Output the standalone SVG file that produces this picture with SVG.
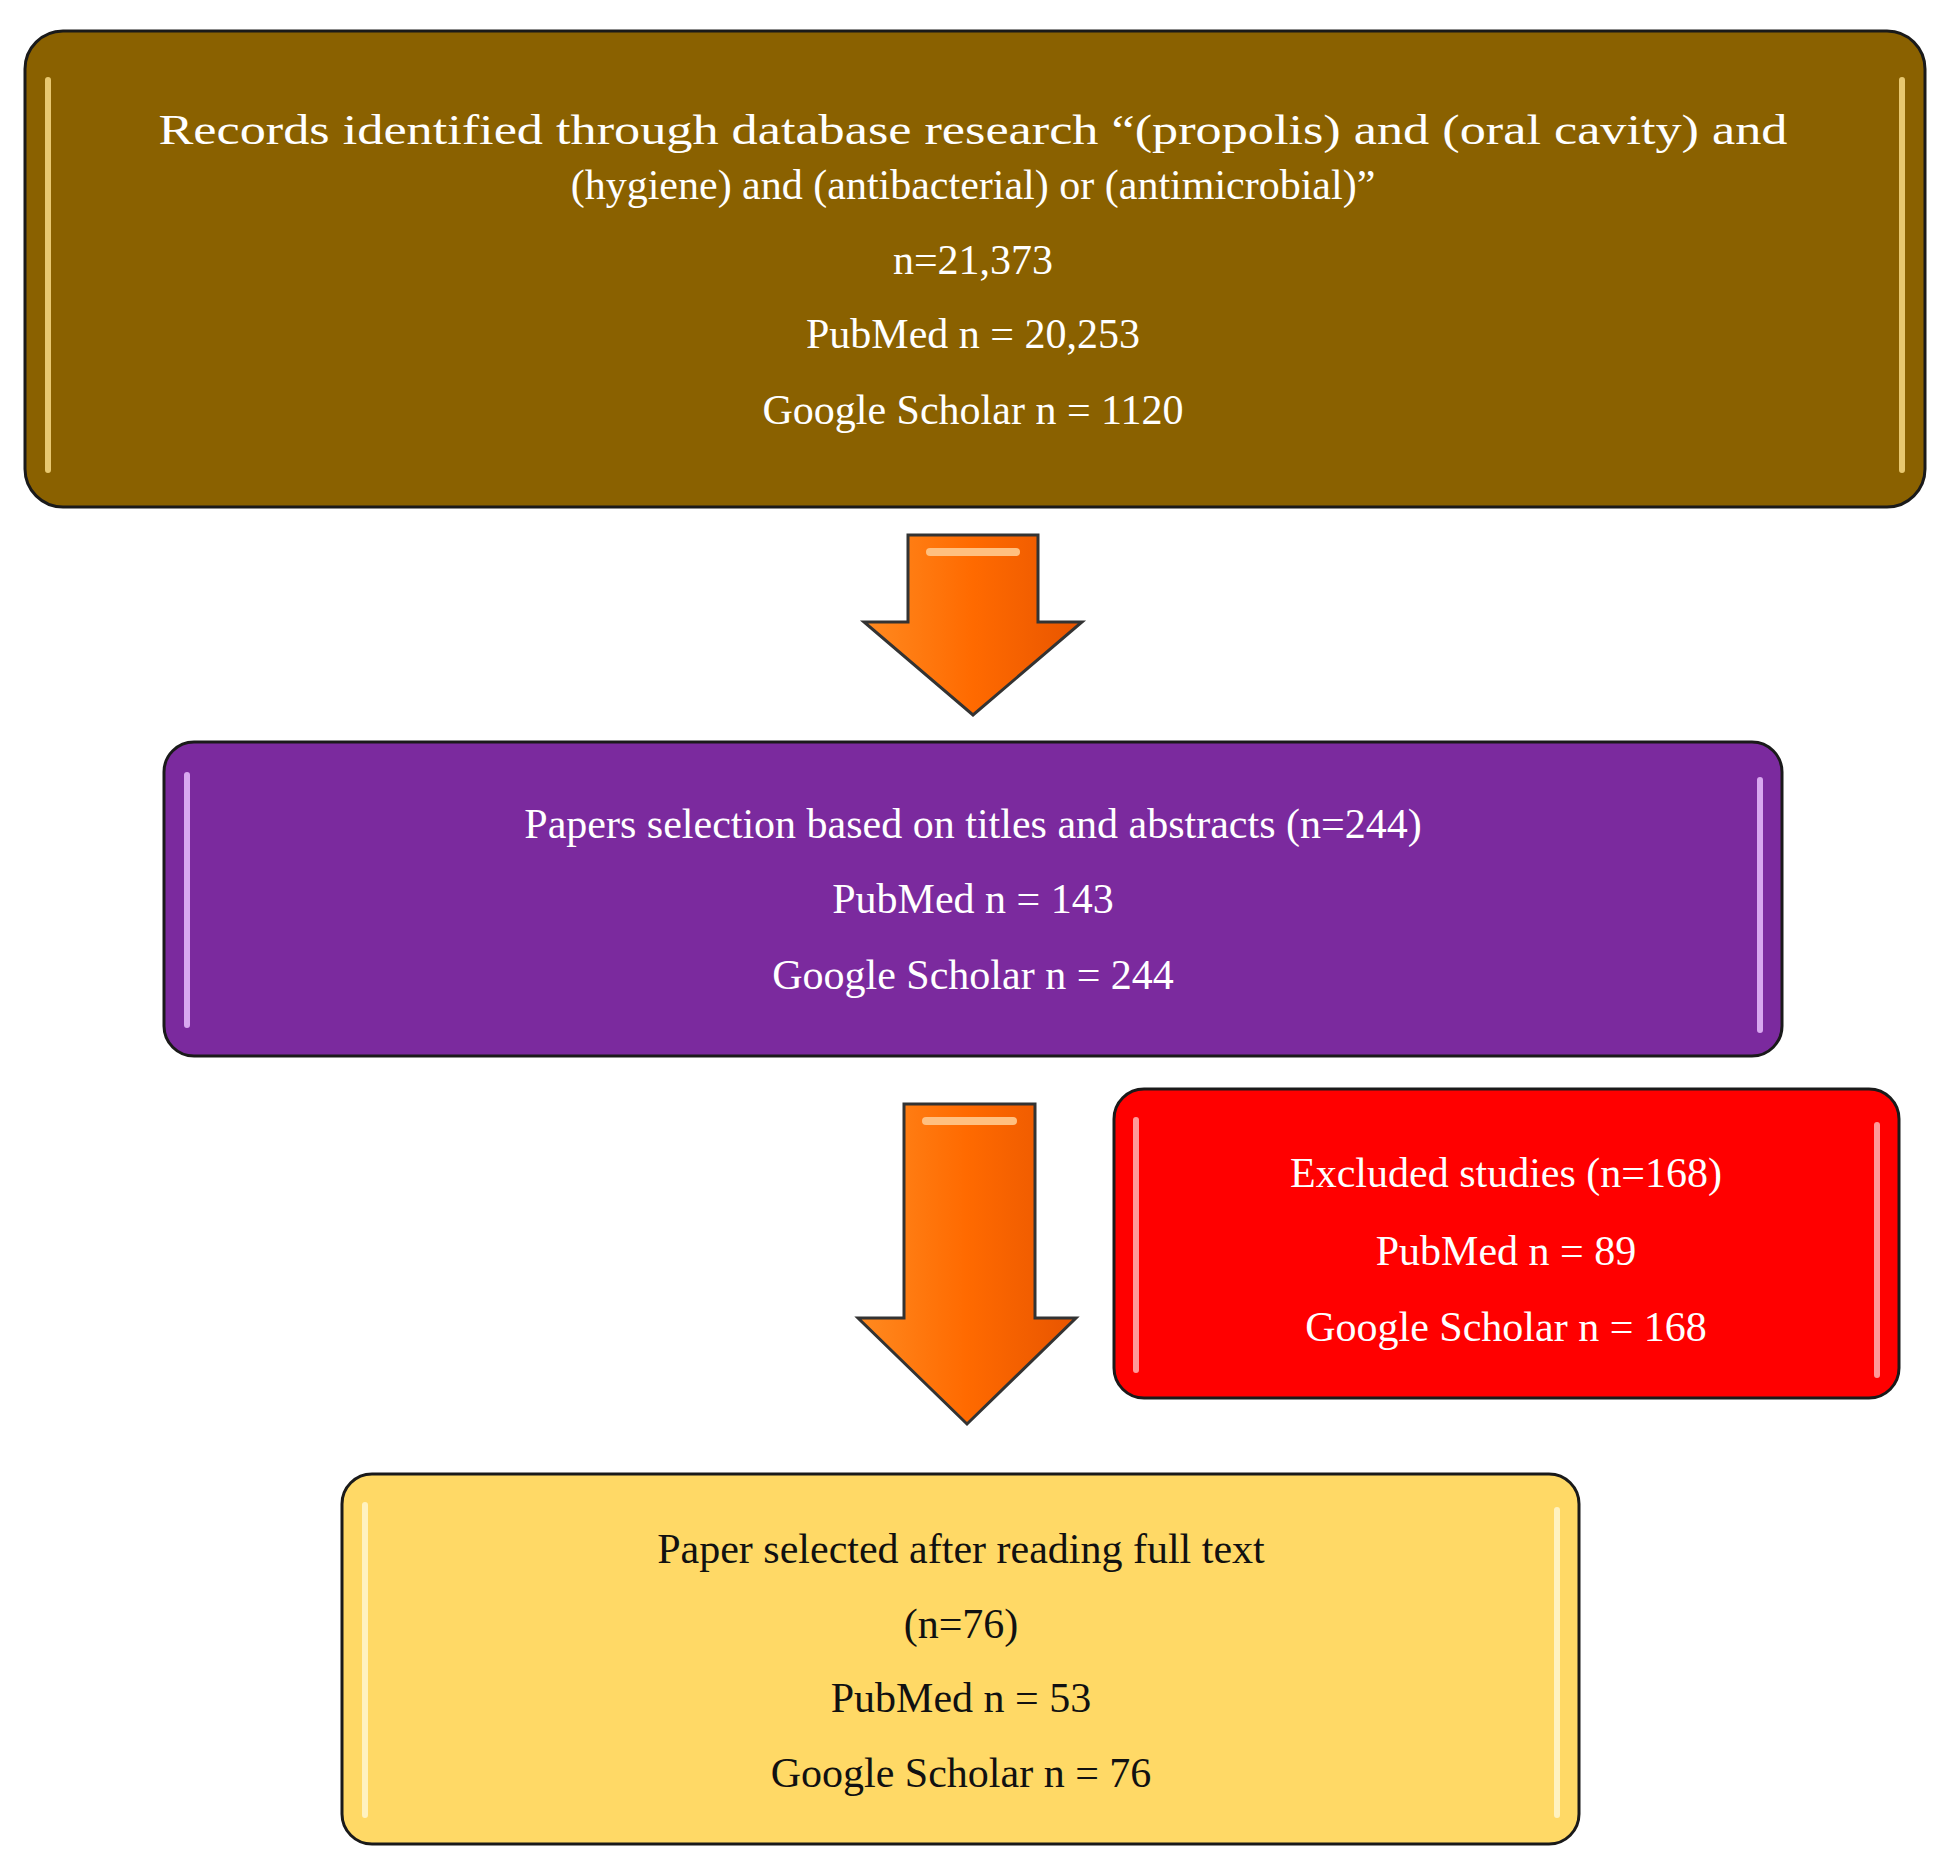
<svg xmlns="http://www.w3.org/2000/svg" width="1950" height="1874" viewBox="0 0 1950 1874">
<style>
.box{stroke:#1a1a1a;stroke-width:3}
.hl{stroke-width:6;stroke-linecap:round;fill:none}
text{font-family:"Liberation Serif","DejaVu Serif",serif;text-anchor:middle;font-size:42px}
.w{fill:#fff}.k{fill:#111}
</style>
<defs>
<linearGradient id="og" x1="0" y1="0" x2="1" y2="0">
<stop offset="0" stop-color="#ff8a20"/><stop offset="0.5" stop-color="#ff6a00"/><stop offset="1" stop-color="#e85500"/>
</linearGradient>
</defs>
<rect width="1950" height="1874" fill="#fff"/>
<g id="connectors">
<path d="M908,535 H1038 V622 H1082 L973,715 L864,622 H908 Z" fill="url(#og)" stroke="#333" stroke-width="3"/>
<path d="M930,552 H1016" stroke="#ffc080" stroke-width="8" stroke-linecap="round"/>
<path d="M904,1104 H1035 V1318 H1076 L967,1424 L858,1318 H904 Z" fill="url(#og)" stroke="#333" stroke-width="3"/>
<path d="M926,1121 H1013" stroke="#ffc080" stroke-width="8" stroke-linecap="round"/>
</g>
<g id="records">
<rect class="box" x="25" y="31" width="1900" height="476" rx="38" fill="#8a6100"/>
<path class="hl" d="M48,80 V470 M1902,80 V470" stroke="#e8c870"/>
<text class="w" x="973" y="144" textLength="1629" lengthAdjust="spacingAndGlyphs">Records identified through database research “(propolis) and (oral cavity) and</text>
<text class="w" x="973" y="199">(hygiene) and (antibacterial) or (antimicrobial)”</text>
<text class="w" x="973" y="274">n=21,373</text>
<text class="w" x="973" y="348">PubMed n = 20,253</text>
<text class="w" x="973" y="424">Google Scholar n = 1120</text>
</g>
<g id="selection">
<rect class="box" x="164" y="742" width="1618" height="314" rx="30" fill="#7b2a9e"/>
<path class="hl" d="M187,775 V1025 M1760,780 V1030" stroke="#d8a8f0"/>
<text class="w" x="973" y="838">Papers selection based on titles and abstracts (n=244)</text>
<text class="w" x="973" y="913">PubMed n = 143</text>
<text class="w" x="973" y="989">Google Scholar n = 244</text>
</g>
<g id="excluded">
<rect class="box" x="1114" y="1089" width="785" height="309" rx="30" fill="#ff0000"/>
<path class="hl" d="M1136,1120 V1370 M1877,1125 V1375" stroke="#ff9a9a"/>
<text class="w" x="1506" y="1187" font-size="56">Excluded studies (n=168)</text>
<text class="w" x="1506" y="1265">PubMed n = 89</text>
<text class="w" x="1506" y="1341">Google Scholar n = 168</text>
</g>
<g id="final">
<rect class="box" x="342" y="1474" width="1237" height="370" rx="30" fill="#ffd966"/>
<path class="hl" d="M365,1505 V1815 M1557,1510 V1815" stroke="#fff2c0"/>
<text class="k" x="961" y="1563">Paper selected after reading full text</text>
<text class="k" x="961" y="1638">(n=76)</text>
<text class="k" x="961" y="1712">PubMed n = 53</text>
<text class="k" x="961" y="1787">Google Scholar n = 76</text>
</g>
</svg>
